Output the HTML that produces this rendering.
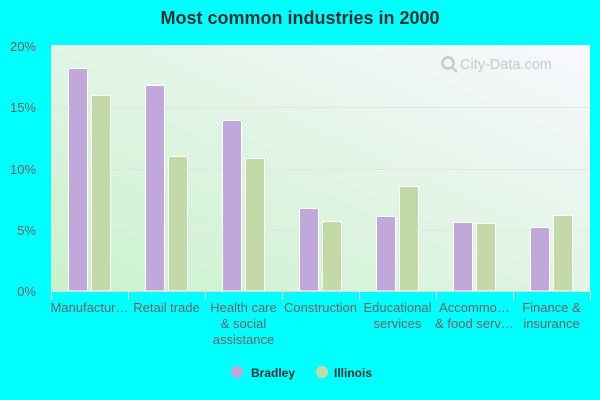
<!DOCTYPE html>
<html><head><meta charset="utf-8"><style>
html,body{margin:0;padding:0;background:#00ffff;}
svg{display:block;font-family:"Liberation Sans",Arial,sans-serif;}
</style></head><body>
<svg width="600" height="400" viewBox="0 0 600 400" xmlns="http://www.w3.org/2000/svg">
<defs>
<linearGradient id="bg" x1="0" y1="1" x2="1" y2="0">
<stop offset="0" stop-color="#c8f2cc"/>
<stop offset="0.6" stop-color="#e6f5ea"/>
<stop offset="1" stop-color="#f8f8ff"/>
</linearGradient>
</defs>
<rect width="600" height="400" fill="#00ffff"/>
<text x="300" y="24" text-anchor="middle" font-size="18" font-weight="bold" fill="#333">Most common industries in 2000</text>
<rect x="51" y="45" width="539" height="246" fill="url(#bg)"/>
<g stroke="#e4e4e4" stroke-width="1">
<line x1="51" y1="107.5" x2="590" y2="107.5"/>
<line x1="51" y1="169.5" x2="590" y2="169.5"/>
<line x1="51" y1="230.5" x2="590" y2="230.5"/>
</g>
<text x="460" y="69" font-size="14.5" fill="#c4cccc">City-Data.com</text>
<circle cx="448" cy="63" r="5.5" fill="none" stroke="#c4cccc" stroke-width="2.5"/>
<line x1="452" y1="67" x2="457" y2="72" stroke="#c4cccc" stroke-width="2.5"/>
<g fill="#666" font-size="13" text-anchor="end">
<text x="36" y="51">20%</text>
<text x="36" y="112">15%</text>
<text x="36" y="174">10%</text>
<text x="36" y="235">5%</text>
<text x="36" y="296">0%</text>
</g>
<g stroke="#fff" stroke-width="1">
<rect x="68.5" y="68.5" width="19" height="222.5" fill="#c0a8da"/>
<rect x="91.5" y="95.5" width="19" height="195.5" fill="#c4d9a8"/>
<rect x="145.5" y="85.5" width="19" height="205.5" fill="#c0a8da"/>
<rect x="168.5" y="156.5" width="19" height="134.5" fill="#c4d9a8"/>
<rect x="222.5" y="120.5" width="19" height="170.5" fill="#c0a8da"/>
<rect x="245.5" y="158.5" width="19" height="132.5" fill="#c4d9a8"/>
<rect x="299.5" y="208.5" width="19" height="82.5" fill="#c0a8da"/>
<rect x="322.5" y="221.5" width="19" height="69.5" fill="#c4d9a8"/>
<rect x="376.5" y="216.5" width="19" height="74.5" fill="#c0a8da"/>
<rect x="399.5" y="186.5" width="19" height="104.5" fill="#c4d9a8"/>
<rect x="453.5" y="222.5" width="19" height="68.5" fill="#c0a8da"/>
<rect x="476.5" y="223.5" width="19" height="67.5" fill="#c4d9a8"/>
<rect x="530.5" y="227.5" width="19" height="63.5" fill="#c0a8da"/>
<rect x="553.5" y="215.5" width="19" height="75.5" fill="#c4d9a8"/>
</g>
<g stroke="#ddd" stroke-width="1">
<line x1="51" y1="291.5" x2="590" y2="291.5"/>
<line x1="51.5" y1="291" x2="51.5" y2="300"/>
<line x1="128.5" y1="291" x2="128.5" y2="300"/>
<line x1="205.5" y1="291" x2="205.5" y2="300"/>
<line x1="282.5" y1="291" x2="282.5" y2="300"/>
<line x1="359.5" y1="291" x2="359.5" y2="300"/>
<line x1="436.5" y1="291" x2="436.5" y2="300"/>
<line x1="513.5" y1="291" x2="513.5" y2="300"/>
<line x1="590.5" y1="291" x2="590.5" y2="300"/>
</g>
<g fill="#666" font-size="13" text-anchor="middle">
<text x="89.5" y="312">Manufactur…</text>
<text x="166.5" y="312">Retail trade</text>
<text x="243.5" y="312">Health care</text>
<text x="243.5" y="328">&amp; social</text>
<text x="243.5" y="344">assistance</text>
<text x="320.5" y="312">Construction</text>
<text x="397.5" y="312">Educational</text>
<text x="397.5" y="328">services</text>
<text x="474.5" y="312">Accommo…</text>
<text x="474.5" y="328">&amp; food serv…</text>
<text x="551.5" y="312">Finance &amp;</text>
<text x="551.5" y="328">insurance</text>
</g>
<circle cx="237" cy="372" r="6" fill="#c0a8da"/>
<text x="251" y="377" font-size="12" font-weight="bold" fill="#333">Bradley</text>
<circle cx="322" cy="372" r="6" fill="#c4d9a8"/>
<text x="334" y="377" font-size="12" font-weight="bold" fill="#333">Illinois</text>
</svg>
</body></html>
